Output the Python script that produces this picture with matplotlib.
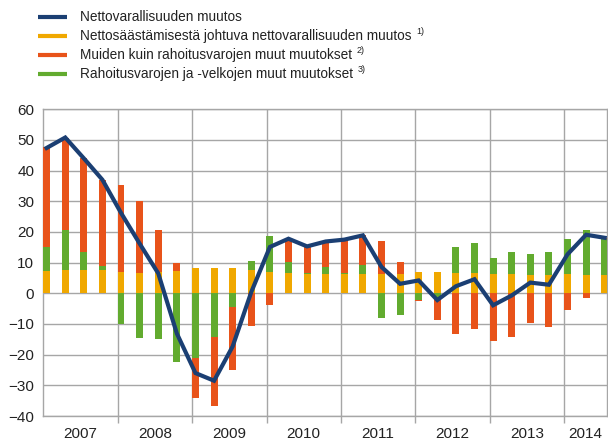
import matplotlib
matplotlib.use("Agg")
import matplotlib.pyplot as plt
import matplotlib.transforms as mtransforms
from matplotlib.lines import Line2D
import numpy as np

plt.rcParams['font.family'] = ['Liberation Sans', 'DejaVu Sans']

years = ["2007", "2008", "2009", "2010", "2011", "2012", "2013", "2014"]

# quarterly data 2007Q1 .. 2014Q3
saving = [7.2, 7.5, 7.5, 7.5, 6.8, 6.5, 6.8, 7.2, 8.1, 8.1, 8.1, 7.5,
          6.8, 6.5, 6.2, 6.2, 6.2, 6.2, 6.2, 6.2, 6.8, 6.8, 6.5, 6.5,
          6.2, 6.2, 5.9, 5.9, 6.2, 5.9, 5.9]
financial = [7.9, 13.1, 6.0, 1.4, -10.0, -14.5, -14.9, -22.4, -21.1, -14.3, -4.6, 3.2,
             11.8, 3.6, 0.3, 2.3, 0.3, 2.9, -8.0, -7.2, -2.1, -1.4, 8.5, 9.8,
             5.2, 7.2, 6.8, 7.5, 11.4, 14.6, 11.7]
nonfinancial = [32.5, 30.2, 30.6, 28.2, 28.4, 23.5, 14.0, 2.8, -13.0, -22.4, -20.4, -10.6,
                -3.8, 7.2, 8.8, 7.9, 10.8, 9.8, 10.7, 3.9, -0.4, -7.2, -13.2, -11.6,
                -15.5, -14.2, -9.7, -11.0, -5.4, -1.5, 0.3]
net_change = [47.4, 50.8, 44.0, 37.0, 26.2, 16.2, 6.5, -13.1, -26.0, -28.5, -17.3, 0.4,
              15.1, 17.8, 15.3, 16.9, 17.5, 18.9, 8.6, 3.1, 4.2, -2.2, 2.3, 4.6,
              -3.9, -0.7, 3.5, 2.8, 12.7, 19.1, 18.1]

labels = ["Nettovarallisuuden muutos",
          "Nettosäästämisestä johtuva nettovarallisuuden muutos",
          "Muiden kuin rahoitusvarojen muut muutokset",
          "Rahoitusvarojen ja -velkojen muut muutokset"]
notes = ["", "1)", "2)", "3)"]

c_line = "#1b3f73"
c_sav = "#f0a800"
c_nonfin = "#e8531a"
c_fin = "#62ab2f"
grid_c = "#a6a6a6"

W, H = 608, 441
fig = plt.figure(figsize=(W / 100, H / 100), dpi=100)
ax = fig.add_axes([43.3 / W, 1 - 416 / H, (607.3 - 43.3) / W, (416 - 109.3) / H])

n = len(saving)
x = np.arange(n)
bw = 0.37
off = 0.18

pos_base = np.zeros(n)
neg_base = np.zeros(n)
for vals, col in [(saving, c_sav), (financial, c_fin), (nonfinancial, c_nonfin)]:
    v = np.array(vals, dtype=float)
    bottoms = np.where(v >= 0, pos_base, neg_base)
    ax.bar(x, v, bottom=bottoms, width=bw, color=col, zorder=3, linewidth=0)
    pos_base = pos_base + np.where(v >= 0, v, 0)
    neg_base = neg_base + np.where(v < 0, v, 0)

ax.plot(x, net_change, color=c_line, lw=3.0, zorder=4, solid_joinstyle='miter')

xmin, xmax = -off, n - 1 + 0.14
ax.set_xlim(xmin, xmax)
ax.set_ylim(-40, 60)
ax.set_yticks(np.arange(-40, 61, 10))
ax.yaxis.grid(True, color=grid_c, lw=1.0, zorder=0)
ax.tick_params(axis='y', length=0, pad=6.5, labelsize=11, labelcolor="#222222")

bounds = [-off + 4 * k for k in range(1, len(years))]
ax.set_xticks(bounds)
ax.set_xticklabels([])
ax.tick_params(axis='x', length=4.8, width=1.0, color=grid_c, direction='out')
for b in bounds:
    ax.axvline(b, color=grid_c, lw=1.0, zorder=0)

trans = mtransforms.blended_transform_factory(ax.transData, fig.transFigure)
for k, yr in enumerate(years):
    lo = -off + 4 * k
    hi = min(lo + 4, xmax)
    ax.text((lo + hi) / 2, 1 - 438 / H, yr, transform=trans, ha='center', va='baseline',
            fontsize=11, color="#222222")

for s in ax.spines.values():
    s.set_color(grid_c)
    s.set_linewidth(1.0)

# legend
cols = [c_line, c_sav, c_nonfin, c_fin]
rows_y = [16.7, 35.7, 55.0, 74.0]
fig.canvas.draw()
renderer = fig.canvas.get_renderer()
for lab, note, col, yy in zip(labels, notes, cols, rows_y):
    fy = 1 - yy / H
    fig.add_artist(Line2D([37.5 / W, 66.5 / W], [fy, fy], color=col, lw=3.0,
                          transform=fig.transFigure, solid_capstyle='butt'))
    t = fig.text(80 / W, fy, lab, fontsize=9.8, color="#222222", va='center', ha='left')
    if note:
        bb = t.get_window_extent(renderer=renderer)
        fig.text((bb.x1 + 5) / W, fy + 4 / H, note, fontsize=6.5, color="#222222",
                 va='center', ha='left')

fig.savefig("out.png", dpi=100)
